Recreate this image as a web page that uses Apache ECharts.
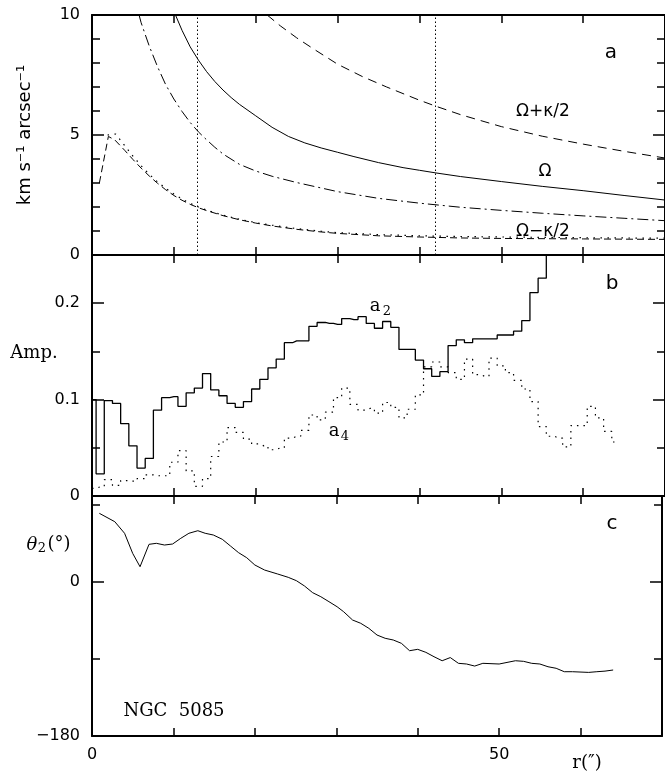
<!DOCTYPE html>
<html><head><meta charset="utf-8">
<script src="https://cdn.jsdelivr.net/npm/echarts@6/dist/echarts.min.js"></script>
<style>html,body{margin:0;padding:0;background:#fff}#c{width:665px;height:777px}</style>
</head><body><div id="c"></div>
<script>
// ---------- Panel a : frequency curves ----------
const omegaR = [10.2, 11, 12, 13, 14, 15, 16, 17, 18, 20, 22, 24, 26, 28, 30, 32, 35, 38, 40, 42, 45, 50, 55, 60, 65, 70];
const omegaV = [10.0, 9.36, 8.67, 8.12, 7.64, 7.23, 6.875, 6.56, 6.28, 5.8, 5.32, 4.94, 4.67, 4.46, 4.28, 4.1, 3.85, 3.64, 3.53, 3.42, 3.27, 3.06, 2.86, 2.68, 2.48, 2.29];

const omegaPlusR = [21.4, 23, 25, 27, 30, 33, 36, 40, 42, 45, 50, 55, 60, 65, 70];
const omegaPlusV = [10.0, 9.55, 9.05, 8.6, 7.95, 7.44, 7.0, 6.45, 6.2, 5.85, 5.35, 4.95, 4.62, 4.32, 4.04];

const dashDotR = [5.75, 6, 7, 8, 9, 10, 11, 12, 13, 14, 15, 16, 18, 20, 22, 25, 30, 35, 40, 45, 50, 55, 60, 65, 70];
const dashDotV = [10.0, 9.68, 8.7, 7.85, 7.1, 6.5, 5.98, 5.52, 5.13, 4.8, 4.49, 4.21, 3.78, 3.5, 3.28, 3.02, 2.64, 2.36, 2.16, 1.99, 1.86, 1.74, 1.63, 1.53, 1.43];

const omegaMinusR = [0.9, 2.0, 2.8, 4, 5, 6, 7, 8, 9, 10, 11, 12, 13, 14, 16, 18, 20, 22, 25, 28, 30, 35, 40, 45, 50, 60, 70];
const omegaMinusV = [3.0, 4.94, 4.79, 4.36, 3.98, 3.62, 3.29, 2.99, 2.72, 2.48, 2.28, 2.11, 1.97, 1.85, 1.64, 1.47, 1.33, 1.21, 1.07, 0.96, 0.9, 0.8, 0.75, 0.71, 0.69, 0.67, 0.65];

const dottedR = [1.9, 2.9, 3.9, 4.9, 6, 7, 8, 9, 10, 11, 12, 13, 14, 16, 18, 20, 22, 25, 28, 30, 35, 40, 45, 50, 60, 70];
const dottedV = [5.0, 5.04, 4.6, 4.16, 3.72, 3.36, 3.05, 2.78, 2.54, 2.33, 2.15, 2.0, 1.87, 1.66, 1.49, 1.35, 1.24, 1.1, 0.99, 0.93, 0.85, 0.8, 0.77, 0.75, 0.72, 0.70];

const resonanceR = [12.9, 41.9];

// ---------- Panel b : Fourier amplitudes ----------
const a2R = [];
for (let i = 0; i <= 56; i++) a2R.push(i);
const a2V = [0.100, 0.023, 0.099, 0.096, 0.075, 0.052, 0.029, 0.039, 0.089, 0.102,
             0.103, 0.093, 0.107, 0.112, 0.127, 0.110, 0.104, 0.096, 0.092, 0.098,
             0.111, 0.121, 0.133, 0.142, 0.159, 0.161, 0.161, 0.176, 0.180, 0.179,
             0.178, 0.184, 0.183, 0.186, 0.179, 0.174, 0.181, 0.175, 0.152, 0.152,
             0.141, 0.132, 0.124, 0.129, 0.156, 0.162, 0.159, 0.163, 0.163, 0.163,
             0.167, 0.167, 0.171, 0.182, 0.211, 0.226, 0.300];

const a4R = [];
for (let i = 0; i <= 64; i++) a4R.push(i);
const a4V = [0.008, 0.0095, 0.017, 0.011, 0.016, 0.0155, 0.018, 0.022, 0.021, 0.021,
             0.035, 0.047, 0.026, 0.010, 0.018, 0.041, 0.056, 0.071, 0.066, 0.059,
             0.054, 0.052, 0.048, 0.050, 0.060, 0.062, 0.068, 0.084, 0.079, 0.087,
             0.102, 0.112, 0.095, 0.089, 0.091, 0.086, 0.097, 0.092, 0.081, 0.090,
             0.105, 0.134, 0.139, 0.134, 0.128, 0.121, 0.142, 0.126, 0.124, 0.143,
             0.135, 0.128, 0.120, 0.111, 0.098, 0.072, 0.062, 0.060, 0.051, 0.073,
             0.073, 0.093, 0.081, 0.067, 0.056];

// ---------- Panel c : phase ----------
const thetaR = [0.9, 2.8, 4.0, 5.0, 5.9, 7.0, 7.9, 8.9, 9.9, 10.9, 11.9, 13.0, 13.9, 14.9, 16.0, 17.0, 18.0, 19.0, 20.0, 21.2, 22.8, 24.1, 25.1, 26.1, 27.1, 28.1, 29.1, 30.1, 30.9, 32.0, 33.0, 34.0, 35.0, 36.0, 37.0, 38.0, 39.0, 40.0, 41.0, 42.0, 43.0, 44.0, 45.0, 46.0, 47.0, 48.0, 50.0, 52.0, 53.0, 54.0, 55.0, 56.0, 57.0, 58.0, 59.0, 61.0, 62.0, 63.0, 64.0];
const thetaV = [79.8, 70, 56.5, 33, 17.5, 43.6, 44.8, 42.8, 44, 50.6, 56.5, 59.5, 56.5, 54.5, 49.5, 41.7, 33.9, 28, 19.5, 13.6, 9, 5.1, 1.2, -5, -12.8, -17.5, -23.3, -29.2, -35, -44.7, -48.5, -54.4, -62.2, -66, -68, -71.9, -80.5, -78.9, -82.4, -87.5, -92.2, -88.5, -95.2, -96, -98.4, -95.2, -96, -92.2, -92.9, -95.2, -96, -99.2, -101, -105, -105, -105.8, -105, -104.3, -103];

// ---------- tick labels ----------
const xTickLabels = [0, 50];
const aTickLabels = [0, 5, 10];
const bTickLabels = [0, 0.1, 0.2];
const cTickLabels = [-180, 0];

const zip = (xs, ys) => xs.map((x, i) => [x, ys[i]]);
const inSet = (set, v) => set.some(t => Math.abs(t - v) < 1e-9);
const fmtNum = v => String(Math.round(v * 1000) / 1000).replace('-', '\u2212');

const BLACK = '#000';
const SANS = 'DejaVu Sans';

const grids = [
  {left: 92, top: 15, width: 576, height: 240},
  {left: 92, top: 255, width: 576, height: 241},
  {left: 92, top: 496, width: 576, height: 240}
];
const yCfg = [
  {min: 0, max: 10, major: 5, minor: 1, labels: aTickLabels},
  {min: 0, max: 0.25, major: 0.1, minor: 0.05, labels: bTickLabels},
  {min: -180, max: 100, major: 180, minor: 90, labels: cTickLabels}
];

const xAxes = [];
const yAxes = [];
for (let g = 0; g < 3; g++) {
  ['bottom', 'top'].forEach(pos => {
    const showLab = (g === 2 && pos === 'bottom');
    xAxes.push({
      gridIndex: g, type: 'value', min: 0, max: 70, interval: 10, position: pos,
      axisLine: {show: true, onZero: false, lineStyle: {color: BLACK, width: 2}},
      axisTick: {show: true, inside: true, length: 8, lineStyle: {color: BLACK, width: 1.5}},
      axisLabel: {show: showLab, margin: 11, fontSize: 16, fontFamily: SANS, color: BLACK,
        formatter: v => inSet(xTickLabels, v) ? fmtNum(v) : ''},
      splitLine: {show: false}
    });
  });
  const c = yCfg[g];
  ['left', 'right'].forEach(pos => {
    yAxes.push({
      gridIndex: g, type: 'value', min: c.min, max: c.max, interval: c.major, position: pos,
      axisLine: {show: true, onZero: false, lineStyle: {color: BLACK, width: 2}},
      axisTick: {show: true, inside: true, length: 12, lineStyle: {color: BLACK, width: 1.5}},
      axisLabel: {show: pos === 'left', margin: 12, fontSize: 16, fontFamily: SANS, color: BLACK,
        formatter: v => inSet(c.labels, v) ? fmtNum(v) : ''},
      splitLine: {show: false}
    });
    yAxes.push({
      gridIndex: g, type: 'value', min: c.min, max: c.max, interval: c.minor, position: pos,
      axisLine: {show: false, onZero: false},
      axisTick: {show: true, inside: true, length: 8, lineStyle: {color: BLACK, width: 1.5}},
      axisLabel: {show: false},
      splitLine: {show: false}
    });
  });
}

function lineSeries(g, data, type, width, extra) {
  return Object.assign({
    type: 'line', xAxisIndex: 2 * g, yAxisIndex: 4 * g, data: data,
    showSymbol: false, symbol: 'none', clip: true, silent: true, animation: false,
    lineStyle: {color: BLACK, width: width, type: type}
  }, extra || {});
}

const series = [
  lineSeries(0, zip(omegaR, omegaV), 'solid', 1, {
    markLine: {
      silent: true, symbol: ['none', 'none'], label: {show: false}, animation: false,
      lineStyle: {color: BLACK, width: 1, type: [1.5, 2.5]},
      data: resonanceR.map(v => ({xAxis: v}))
    }
  }),
  lineSeries(0, zip(omegaPlusR, omegaPlusV), [9, 6], 1),
  lineSeries(0, zip(dashDotR, dashDotV), [11, 4, 2, 4], 1),
  lineSeries(0, zip(omegaMinusR, omegaMinusV), [7, 4], 1),
  lineSeries(0, zip(dottedR, dottedV), [1.5, 5.5], 1.2),
  lineSeries(1, zip(a2R, a2V), 'solid', 1.3, {step: 'middle'}),
  lineSeries(1, zip(a4R, a4V), [1.5, 5], 1.2, {step: 'middle'}),
  lineSeries(2, zip(thetaR, thetaV), 'solid', 1)
];

function txt(x, y, text, font, extra) {
  return Object.assign({
    type: 'text', x: x, y: y, silent: true,
    style: {text: text, font: font, fill: BLACK,
      align: 'center', verticalAlign: 'middle',
      textAlign: 'center', textVerticalAlign: 'middle'}
  }, extra || {});
}

const graphics = [
  txt(25, 135, 'km s\u207B\u00B9 arcsec\u207B\u00B9', '18px "DejaVu Sans"', {rotation: Math.PI / 2}),
  txt(34, 353, 'Amp.', '18px "DejaVu Serif"'),
  txt(32, 545, '\u03B8', 'italic 18px "DejaVu Serif"'),
  txt(42, 549, '2', '13px "DejaVu Serif"'),
  txt(59, 544, '(\u00B0)', '18px "DejaVu Serif"'),
  txt(611, 53, 'a', '20px "DejaVu Sans"'),
  txt(612, 284, 'b', '20px "DejaVu Sans"'),
  txt(612, 524, 'c', '20px "DejaVu Sans"'),
  txt(543, 112, '\u03A9+\u03BA/2', '17px "DejaVu Sans"'),
  txt(545, 172, '\u03A9', '17px "DejaVu Sans"'),
  txt(543, 232, '\u03A9\u2212\u03BA/2', '17px "DejaVu Sans"'),
  txt(375, 306, 'a', '18px "DejaVu Serif"'),
  txt(387, 312, '2', '13px "DejaVu Serif"'),
  txt(334, 431, 'a', '18px "DejaVu Serif"'),
  txt(345, 437, '4', '13px "DejaVu Serif"'),
  txt(174, 711, 'NGC  5085', '18px "DejaVu Serif"'),
  txt(587, 763, 'r(\u2033)', '18px "DejaVu Serif"')
];

const chart = echarts.init(document.getElementById('c'), null, {renderer: 'canvas'});
chart.setOption({
  animation: false,
  backgroundColor: '#fff',
  grid: grids,
  xAxis: xAxes,
  yAxis: yAxes,
  series: series,
  graphic: graphics
});
</script>
</body></html>
